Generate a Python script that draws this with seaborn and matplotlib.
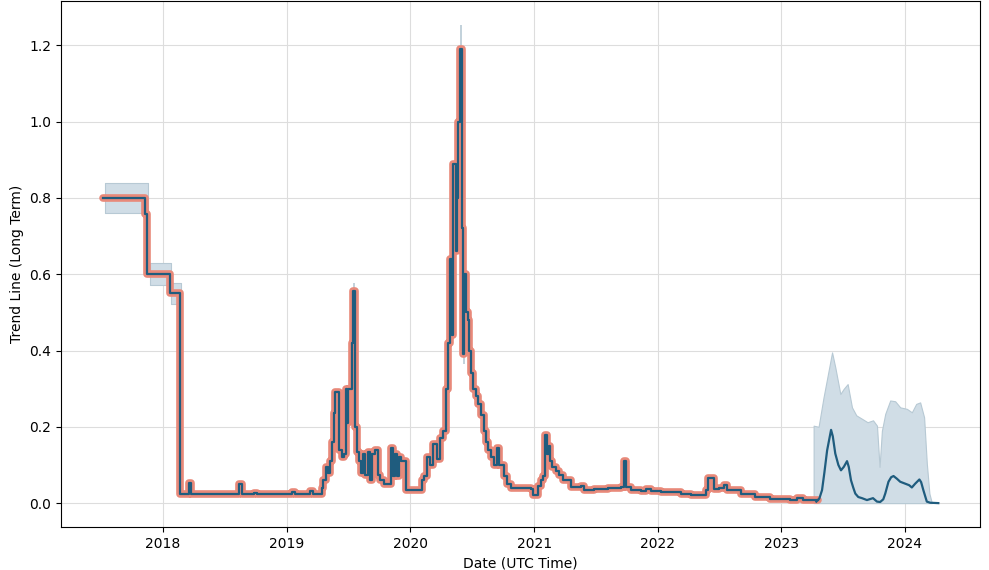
import numpy as np
import pandas as pd
import seaborn as sns
import matplotlib
matplotlib.use("Agg")
import matplotlib.pyplot as plt

# ---------------------------
# Data (decimal years / values)
# ---------------------------
hist_years = [
    2017.514, 2017.859, 2017.875, 2018.059, 2018.140, 2018.214, 2018.226,
    2018.613, 2018.637, 2018.734, 2018.758, 2019.040, 2019.065, 2019.185,
    2019.210, 2019.282, 2019.298, 2019.315, 2019.331, 2019.347, 2019.363,
    2019.379, 2019.395, 2019.427, 2019.444, 2019.460, 2019.476, 2019.488,
    2019.500, 2019.528, 2019.536, 2019.556, 2019.569, 2019.585, 2019.601,
    2019.617, 2019.637, 2019.661, 2019.677, 2019.694, 2019.718, 2019.738,
    2019.758, 2019.790, 2019.843, 2019.863, 2019.879, 2019.895, 2019.911,
    2019.927, 2019.964, 2020.093, 2020.113, 2020.137, 2020.161, 2020.185,
    2020.218, 2020.242, 2020.266, 2020.290, 2020.306, 2020.319, 2020.335,
    2020.343, 2020.367, 2020.379, 2020.387, 2020.399, 2020.415, 2020.423,
    2020.431, 2020.448, 2020.464, 2020.476, 2020.492, 2020.508, 2020.528,
    2020.548, 2020.573, 2020.597, 2020.613, 2020.629, 2020.653, 2020.677,
    2020.698, 2020.714, 2020.734, 2020.758, 2020.782, 2020.815, 2020.976,
    2020.992, 2021.032, 2021.056, 2021.073, 2021.085, 2021.105, 2021.117,
    2021.129, 2021.145, 2021.177, 2021.202, 2021.234, 2021.298, 2021.379,
    2021.403, 2021.484, 2021.597, 2021.702, 2021.726, 2021.730, 2021.746,
    2021.782, 2021.863, 2021.903, 2021.944, 2022.024, 2022.185, 2022.266,
    2022.347, 2022.387, 2022.403, 2022.452, 2022.492, 2022.532, 2022.556,
    2022.669, 2022.790, 2022.911, 2023.073, 2023.129, 2023.177, 2023.298,
]
hist_values = [
    0.800, 0.757, 0.600, 0.550, 0.025, 0.052, 0.025,
    0.050, 0.025, 0.027, 0.024, 0.030, 0.025, 0.032,
    0.025, 0.040, 0.060, 0.095, 0.080, 0.110, 0.160,
    0.235, 0.290, 0.140, 0.120, 0.130, 0.300, 0.210,
    0.300, 0.420, 0.555, 0.200, 0.135, 0.110, 0.080,
    0.130, 0.075, 0.135, 0.060, 0.130, 0.140, 0.075,
    0.060, 0.050, 0.145, 0.070, 0.130, 0.070, 0.120,
    0.110, 0.034, 0.060, 0.070, 0.120, 0.100, 0.155,
    0.115, 0.170, 0.190, 0.300, 0.420, 0.640, 0.440,
    0.890, 0.660, 0.800, 1.000, 1.190, 0.720, 0.390,
    0.600, 0.500, 0.480, 0.400, 0.340, 0.300, 0.280,
    0.260, 0.230, 0.190, 0.160, 0.140, 0.120, 0.100,
    0.145, 0.100, 0.100, 0.070, 0.050, 0.040, 0.036,
    0.022, 0.045, 0.060, 0.070, 0.178, 0.130, 0.150,
    0.110, 0.095, 0.085, 0.075, 0.060, 0.043, 0.045,
    0.035, 0.038, 0.040, 0.042, 0.045, 0.110, 0.042,
    0.035, 0.032, 0.036, 0.033, 0.028, 0.024, 0.020,
    0.022, 0.035, 0.065, 0.038, 0.040, 0.048, 0.035,
    0.024, 0.015, 0.011, 0.008, 0.014, 0.009, 0.009,
]

# early confidence band (steps)
early_band_years = [2017.535, 2017.857, 2017.879, 2017.898, 2018.065, 2018.145]
early_band_low = [0.760, 0.720, 0.600, 0.571, 0.522, 0.522]
early_band_high = [0.840, 0.840, 0.600, 0.630, 0.577, 0.577]

# thin band spikes poking out of the line
spike_years = [2019.546, 2020.411, 2020.435]
spike_low = [0.550, 1.190, 0.365]
spike_high = [0.578, 1.253, 0.390]

# forecast
fc_years = [
    2023.282, 2023.306, 2023.328, 2023.347, 2023.369, 2023.401, 2023.415,
    2023.435, 2023.460, 2023.481, 2023.504, 2023.530, 2023.544, 2023.562,
    2023.581, 2023.597, 2023.621, 2023.651, 2023.691, 2023.740, 2023.772,
    2023.798, 2023.823, 2023.839, 2023.865, 2023.887, 2023.906, 2023.933,
    2023.960, 2024.008, 2024.032, 2024.054, 2024.081, 2024.115, 2024.129,
    2024.147, 2024.175, 2024.202, 2024.268,
]
fc_values = [
    0.004, 0.012, 0.034, 0.080, 0.138, 0.192, 0.175,
    0.130, 0.100, 0.086, 0.095, 0.110, 0.095, 0.060,
    0.040, 0.025, 0.016, 0.013, 0.008, 0.013, 0.004,
    0.003, 0.010, 0.025, 0.056, 0.068, 0.071, 0.064,
    0.056, 0.050, 0.047, 0.041, 0.051, 0.062, 0.055,
    0.034, 0.004, 0.001, 0.000,
]
fc_band_years = [
    2023.260, 2023.300, 2023.340, 2023.381, 2023.409, 2023.435, 2023.476,
    2023.502, 2023.535, 2023.570, 2023.605, 2023.651, 2023.696, 2023.740,
    2023.772, 2023.793, 2023.812, 2023.839, 2023.879, 2023.919, 2023.960,
    2024.014, 2024.054, 2024.089, 2024.121, 2024.153, 2024.175, 2024.196,
    2024.216,
]
fc_band_high = [
    0.203, 0.200, 0.277, 0.347, 0.395, 0.356, 0.286,
    0.299, 0.312, 0.251, 0.230, 0.221, 0.212, 0.217,
    0.203, 0.095, 0.190, 0.234, 0.269, 0.267, 0.251,
    0.247, 0.238, 0.260, 0.264, 0.225, 0.104, 0.025,
    0.000,
]
fc_band_low = [0.0] * len(fc_band_high)


def to_dates(years):
    years = np.asarray(years, dtype=float)
    return pd.Timestamp("2018-01-01") + pd.to_timedelta((years - 2018) * 365.25, unit="D")


band_face = "#d0dde6"
band_edge = "#b7c9d4"
line_blue = "#1f5c7e"
salmon = "#e8897a"

hist = pd.DataFrame({"date": to_dates(hist_years), "value": hist_values})
fc = pd.DataFrame({"date": to_dates(fc_years), "value": fc_values})

fig, ax = plt.subplots(figsize=(9.89, 5.70), dpi=100)

# bands
ax.fill_between(to_dates(early_band_years), early_band_low, early_band_high,
                step="post", facecolor=band_face, edgecolor=band_edge,
                linewidth=0.8, zorder=1)
ax.vlines(to_dates(spike_years), spike_low, spike_high,
          color=band_edge, linewidth=1.2, zorder=1)
ax.fill_between(to_dates(fc_band_years), fc_band_low, fc_band_high,
                facecolor=band_face, edgecolor=band_edge,
                linewidth=0.8, zorder=1)

# historic trend line: thick salmon under thin blue
sns.lineplot(data=hist, x="date", y="value", ax=ax, color=salmon,
             linewidth=5.5, drawstyle="steps-post", estimator=None,
             solid_capstyle="round", solid_joinstyle="round", zorder=2)
sns.lineplot(data=hist, x="date", y="value", ax=ax, color=line_blue,
             linewidth=1.6, drawstyle="steps-post", estimator=None, zorder=3)

# forecast line
sns.lineplot(data=fc, x="date", y="value", ax=ax, color=line_blue,
             linewidth=1.6, estimator=None, zorder=3)

ax.grid(True, color="#dddddd", linewidth=0.8)
ax.set_axisbelow(True)
ax.set_xlabel("Date (UTC Time)")
ax.set_ylabel("Trend Line (Long Term)")

fig.subplots_adjust(left=0.0617, right=0.991, top=0.998, bottom=0.0754)
plt.savefig("out.png", dpi=100)
plt.close()
